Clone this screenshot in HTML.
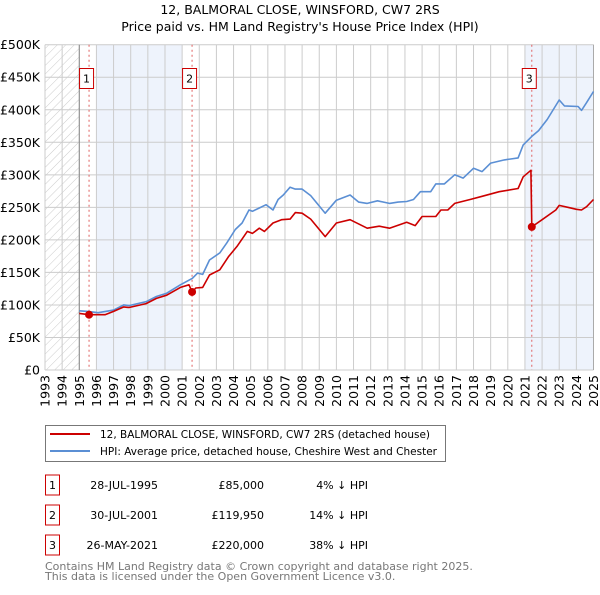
<!DOCTYPE html>
<html><head><meta charset="utf-8"><style>
body{margin:0;background:#fff;font-family:"Liberation Sans","DejaVu Sans",sans-serif;}
svg text{font-family:"DejaVu Sans","Liberation Sans",sans-serif;}
</style></head><body>
<svg id="c" width="600" height="590" viewBox="0 0 600 590" xmlns="http://www.w3.org/2000/svg">
<defs><pattern id="hatch" width="6" height="6" patternUnits="userSpaceOnUse" patternTransform="rotate(45)"><line x1="0" y1="0" x2="0" y2="6" stroke="#ccc" stroke-width="1"/></pattern></defs>
<text x="300" y="14" text-anchor="middle" font-size="12.5" fill="#000">12, BALMORAL CLOSE, WINSFORD, CW7 2RS</text>
<text x="300" y="31" text-anchor="middle" font-size="12.5" fill="#000">Price paid vs. HM Land Registry's House Price Index (HPI)</text>
<g id="plot"></g>
<g>
<rect x="45.5" y="425.5" width="400" height="36" fill="#fff" stroke="#777"/>
<line x1="50" y1="434" x2="90" y2="434" stroke="#cc0000" stroke-width="2"/>
<text x="100" y="438" font-size="10.5" textLength="330" lengthAdjust="spacingAndGlyphs">12, BALMORAL CLOSE, WINSFORD, CW7 2RS (detached house)</text>
<line x1="50" y1="451" x2="90" y2="451" stroke="#5b8fd4" stroke-width="2"/>
<text x="100" y="455" font-size="10.5" textLength="337" lengthAdjust="spacingAndGlyphs">HPI: Average price, detached house, Cheshire West and Chester</text>
</g>
<g id="table" font-size="11"></g>
<text x="45" y="570" font-size="11" fill="#777">Contains HM Land Registry data © Crown copyright and database right 2025.</text>
<text x="45" y="580" font-size="11" fill="#777">This data is licensed under the Open Government Licence v3.0.</text>
</svg>
<script>
const hpiYears=[1995.0,1995.5,1996.1,1997.0,1997.6,1997.9,1998.9,1999.5,2000.1,2000.9,2001.6,2001.9,2002.2,2002.6,2003.2,2003.6,2004.1,2004.5,2004.9,2005.1,2005.5,2005.9,2006.3,2006.6,2006.9,2007.3,2007.6,2008.0,2008.5,2009.35,2010.0,2010.8,2011.3,2011.8,2012.4,2013.1,2013.6,2014.1,2014.5,2014.9,2015.5,2015.8,2016.3,2016.9,2017.4,2018.0,2018.5,2019.0,2019.8,2020.6,2020.9,2021.4,2021.8,2022.3,2023.0,2023.3,2024.1,2024.3,2024.6,2025.0];
const hpiValues=[91,90,88,92,100,99,105,113,118,131,141,149,147,169,180,195,216,226,246,244,249,254,246,262,269,281,278,278,268,241,261,269,258,256,260,256,258,259,262,274,274,286,286,300,295,310,305,318,323,326,346,359,368,385,415,406,405,399,411,428];
const ppYears=[1995.0,1995.57,1996.1,1996.5,1997.0,1997.6,1997.9,1998.9,1999.5,2000.1,2000.9,2001.4,2001.58,2001.8,2002.2,2002.6,2003.2,2003.7,2004.2,2004.8,2005.1,2005.5,2005.8,2006.3,2006.8,2007.3,2007.6,2008.0,2008.5,2009.35,2010.0,2010.8,2011.8,2012.5,2013.1,2014.1,2014.6,2015.0,2015.8,2016.1,2016.5,2016.9,2017.8,2018.5,2019.5,2020.6,2020.9,2021.35,2021.4,2022.0,2022.8,2023.0,2023.5,2024.0,2024.3,2024.6,2025.0];
const ppValues=[87,85,85,85,90,97,96,102,110,115,127,131,119.95,126,127,146,154,174,190,213,210,218,213,226,231,232,242,241,232,205,226,231,218,221,218,227,222,236,236,246,246,256,262,267,274,279,297,307,220,231,246,253,250,247,246,251,262];
const saleNums=["1","2","3"];
const saleYears=[1995.57,2001.58,2021.4];
const saleValues=[85,119.95,220];
const saleDates=["28-JUL-1995","30-JUL-2001","26-MAY-2021"];
const salePrices=["£85,000","£119,950","£220,000"];
const salePcts=["4% ↓ HPI","14% ↓ HPI","38% ↓ HPI"];
const yTicks=[0,50,100,150,200,250,300,350,400,450,500];
const yTickLabels=["£0","£50K","£100K","£150K","£200K","£250K","£300K","£350K","£400K","£450K","£500K"];
const xTicks=[1993,1994,1995,1996,1997,1998,1999,2000,2001,2002,2003,2004,2005,2006,2007,2008,2009,2010,2011,2012,2013,2014,2015,2016,2017,2018,2019,2020,2021,2022,2023,2024,2025];

const L=45,R=593.5,T=44.7,B=370;
const X=y=>L+(y-1993)/(2025-1993)*(R-L);
const Y=v=>B-v/500*(B-T);
const NS="http://www.w3.org/2000/svg";
const plot=document.getElementById('plot');
function mk(tag,attrs,parent){const e=document.createElementNS(NS,tag);for(const k in attrs)e.setAttribute(k,attrs[k]);(parent||plot).appendChild(e);return e;}

let e;
e=mk('rect',{x:X(1993),y:T,width:X(1995)-X(1993),height:B-T,fill:'url(#hatch)'});


e=mk('rect',{x:X(1996),y:T,width:X(2001)-X(1996),height:B-T,fill:'#eef3fc'});


e=mk('rect',{x:X(2021),y:T,width:X(2025)-X(2021),height:B-T,fill:'#eef3fc'});



yTicks.forEach((v,i)=>{
 e=mk('line',{x1:L,x2:R,y1:Y(v),y2:Y(v),stroke:'#ccc','stroke-width':1});
 
 
 e=mk('text',{x:L-5,y:Y(v)+4.5,'text-anchor':'end','font-size':12.5,fill:'#000'});
 e.textContent=yTickLabels[i];
 
 
});
xTicks.forEach(yr=>{
 e=mk('line',{x1:X(yr),x2:X(yr),y1:T,y2:B,stroke:'#ccc','stroke-width':1});
 
 
 e=mk('text',{x:0,y:0,'text-anchor':'end','font-size':12.5,fill:'#000',transform:`translate(${X(yr)+4.5},${B+5}) rotate(-90)`});
 e.textContent=yr;
 
 
});
e=mk('line',{x1:X(1995),x2:X(1995),y1:T,y2:B,stroke:'#888','stroke-width':1});


e=mk('line',{x1:R,x2:R,y1:T,y2:B,stroke:'#aaa','stroke-width':1});



saleYears.forEach((yr,i)=>{
 e=mk('line',{x1:X(yr),x2:X(yr),y1:T,y2:B,stroke:'#e06060','stroke-width':1,'stroke-dasharray':'2,3'});
 
 
 const g=mk('g',{});
 
 
 mk('rect',{x:X(yr)-9.5,y:68.5,width:14,height:20,fill:'#fff',stroke:'#cc0000'},g);
 const t=mk('text',{x:X(yr)-2.5,y:82.5,'text-anchor':'middle','font-size':11,fill:'#000'},g);
 t.textContent=saleNums[i];
});

function path(xs,vs){return xs.map((x,i)=>(i?'L':'M')+X(x).toFixed(1)+','+Y(vs[i]).toFixed(1)).join('');}
e=mk('path',{d:path(hpiYears,hpiValues),fill:'none',stroke:'#5b8fd4','stroke-width':1.6,'stroke-linejoin':'round'});


e=mk('path',{d:path(ppYears,ppValues),fill:'none',stroke:'#cc0000','stroke-width':1.6,'stroke-linejoin':'round'});


saleYears.forEach((yr,i)=>{
 e=mk('circle',{cx:X(yr),cy:Y(saleValues[i]),r:4,fill:'#cc0000'});
 
 
});

const tbl=document.getElementById('table');
saleNums.forEach((n,i)=>{
 const cy=485+i*30;
 const g=mk('g',{},tbl);
 
 
 mk('rect',{x:45.5,y:cy-10,width:14,height:20,fill:'#fff',stroke:'#cc0000'},g);
 let t=mk('text',{x:52.5,y:cy+4,'text-anchor':'middle'},g);t.textContent=n;
 t=mk('text',{x:158,y:cy+4,'text-anchor':'end'},g);t.textContent=saleDates[i];
 t=mk('text',{x:264,y:cy+4,'text-anchor':'end'},g);t.textContent=salePrices[i];
 t=mk('text',{x:368,y:cy+4,'text-anchor':'end'},g);t.textContent=salePcts[i];
});
</script>
</body></html>
